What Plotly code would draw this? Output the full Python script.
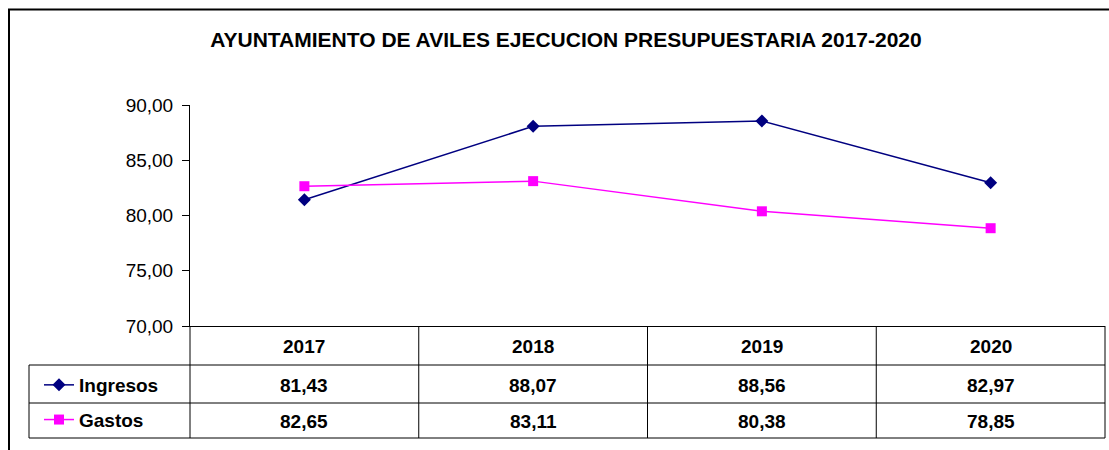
import plotly.graph_objects as go

years = ["2017", "2018", "2019", "2020"]
ingresos = [81.43, 88.07, 88.56, 82.97]
gastos = [82.65, 83.11, 80.38, 78.85]
series_names = ["Ingresos", "Gastos"]
colors = ["#000080", "#FF00FF"]
symbols = ["diamond", "square"]
y_ticks = [70, 75, 80, 85, 90]

W, H = 1109, 450
L, R, T, B = 190, 1105, 105, 326  # plot area in pixels

def px(xp):
    return (xp - L) / (R - L)

def py(yp):
    return (B - yp) / (B - T)

FONT = "Arial, Liberation Sans, sans-serif"
xs = list(range(len(years)))

fig = go.Figure()
for name, vals, col, sym in zip(series_names, [ingresos, gastos], colors, symbols):
    fig.add_trace(go.Scatter(
        x=xs, y=vals, name=name, mode="lines+markers",
        line=dict(color=col, width=1.5),
        marker=dict(symbol=sym, size=10, color=col),
        legendgroup=name,
    ))

shapes = []
line = dict(color="#000000", width=1)
row_y = [365, 403, 438]
# outer frame
shapes.append(dict(type="rect", xref="paper", yref="paper",
                   x0=px(9), x1=px(1114), y0=py(9.5), y1=py(470),
                   line=dict(color="#000000", width=2)))
# horizontal table lines
for yv in row_y:
    shapes.append(dict(type="line", xref="paper", yref="paper",
                       x0=px(29), x1=1, y0=py(yv), y1=py(yv), line=line))
# left border of legend column
shapes.append(dict(type="line", xref="paper", yref="paper",
                   x0=px(29), x1=px(29), y0=py(365), y1=py(438), line=line))
# vertical lines at plot edges
for xv in [0, 1]:
    shapes.append(dict(type="line", xref="paper", yref="paper",
                       x0=xv, x1=xv, y0=0, y1=py(438), line=line))
# category dividers
for i in range(len(years) - 1):
    shapes.append(dict(type="line", xref="x", yref="paper",
                       x0=i + 0.5, x1=i + 0.5, y0=0, y1=py(438), line=line))

annotations = []
for i, yr in enumerate(years):
    annotations.append(dict(x=i, y=py(346), xref="x", yref="paper", text="<b>%s</b>" % yr,
                            yanchor="middle", showarrow=False,
                            font=dict(size=19, color="#000", family=FONT)))
for vals, yy in [(ingresos, 385), (gastos, 421)]:
    for i, v in enumerate(vals):
        annotations.append(dict(x=i, y=py(yy), xref="x", yref="paper",
                                text="<b>%s</b>" % ("%.2f" % v).replace(".", ","),
                                yanchor="middle", showarrow=False,
                                font=dict(size=19, color="#000", family=FONT)))

fig.update_layout(
    width=W, height=H,
    margin=dict(l=L, r=W - R, t=T, b=H - B),
    paper_bgcolor="white", plot_bgcolor="white",
    separators=",.",
    font=dict(family=FONT, color="#000"),
    title=dict(text="<b>AYUNTAMIENTO DE AVILES EJECUCION PRESUPUESTARIA 2017-2020</b>",
               x=566 / W, xanchor="center", y=1 - 40 / H, yanchor="middle",
               xref="container", yref="container",
               font=dict(size=21, color="#000", family=FONT)),
    xaxis=dict(range=[-0.5, len(years) - 0.5], showgrid=False, zeroline=False,
               showticklabels=False, showline=True, linecolor="#000", linewidth=1,
               tickvals=xs, ticks=""),
    yaxis=dict(range=[70, 90], tickvals=y_ticks, tickformat=".2f", showgrid=False,
               zeroline=False, showline=True, linecolor="#000", linewidth=1,
               ticks="outside", ticklen=7, tickcolor="#000", ticklabelstandoff=5,
               tickfont=dict(size=19, color="#000", family=FONT)),
    legend=dict(x=px(39), y=py(366), xanchor="left", yanchor="top",
                xref="paper", yref="paper", bgcolor="rgba(0,0,0,0)",
                font=dict(size=19, color="#000", family=FONT, weight="bold"),
                tracegroupgap=7, traceorder="grouped"),
    shapes=shapes, annotations=annotations,
)

fig.write_html("out.html")
